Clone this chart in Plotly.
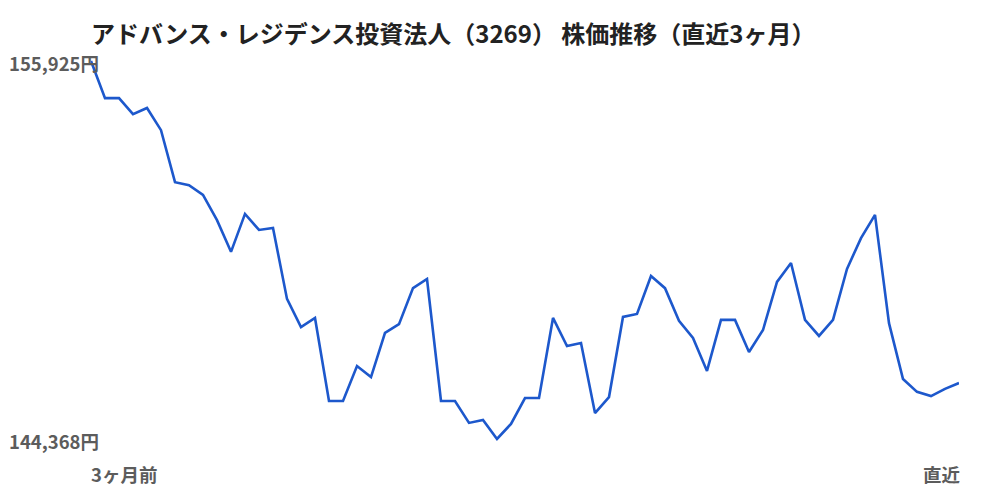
import plotly.graph_objects as go

# 終値（3ヶ月前 → 直近）
days = list(range(63))
prices = [
    155925, 154790, 154790, 154300, 154490, 153810, 152220, 152130, 151830, 151060,
    150090, 151250, 150760, 150820, 148650, 147790, 148070, 145530, 145530, 146600,
    146260, 147610, 147880, 148980, 149260, 145530, 145530, 144860, 144950, 144368,
    144830, 145620, 145620, 148070, 147210, 147300, 145160, 145650, 148100, 148190,
    149350, 148980, 147980, 147460, 146450, 148010, 148010, 147030, 147700, 149170,
    149750, 148010, 147520, 148010, 149570, 150510, 151220, 147910, 146200, 145810,
    145680, 145900, 146080,
]
title_text = "アドバンス・レジデンス投資法人（3269） 株価推移（直近3ヶ月）"
x_labels = ["3ヶ月前", "直近"]

p_min = min(prices)
p_max = max(prices)
pad = (p_max - p_min) * 2 / 378

font_jp = "Noto Sans CJK JP"
W, H = 984, 484  # page body has an 8px margin

fig = go.Figure()
fig.add_trace(go.Scatter(
    x=days, y=prices, mode="lines",
    line=dict(color="#1d58cc", width=2.6),
    hoverinfo="skip", showlegend=False,
))

label_font = dict(family=font_jp, size=18.5, color="#5c5c5c")
annots = []
for v in [p_max, p_min]:
    annots.append(dict(
        x=0, xref="paper", xanchor="right", xshift=10,
        y=v, yref="y", yanchor="middle", yshift=-1.5,
        text="<b>{:,}円</b>".format(v), showarrow=False,
        font=label_font,
    ))
annots.append(dict(
    x=days[0], xref="x", xanchor="left", xshift=-2,
    y=0, yref="paper", yanchor="middle", yshift=-33,
    text="<b>" + x_labels[0] + "</b>", showarrow=False,
    font=label_font,
))
annots.append(dict(
    x=days[-1], xref="x", xanchor="right", xshift=4,
    y=0, yref="paper", yanchor="middle", yshift=-33,
    text="<b>" + x_labels[1] + "</b>", showarrow=False,
    font=label_font,
))

fig.update_layout(
    width=W, height=H,
    margin=dict(l=83, r=33, t=51, b=51),
    paper_bgcolor="white", plot_bgcolor="white",
    title=dict(
        text="<b>" + title_text + "</b>",
        x=83 / W, xanchor="left", xref="container",
        y=1 - 27 / H, yanchor="middle", yref="container",
        font=dict(family=font_jp, size=24, color="#222222"),
    ),
    xaxis=dict(range=[days[0], days[-1]], showgrid=False, zeroline=False,
               showticklabels=False, showline=False),
    yaxis=dict(range=[p_min - pad, p_max + pad], showgrid=False, zeroline=False,
               showticklabels=False, showline=False),
    annotations=annots,
)

fig.write_html("out.html")
